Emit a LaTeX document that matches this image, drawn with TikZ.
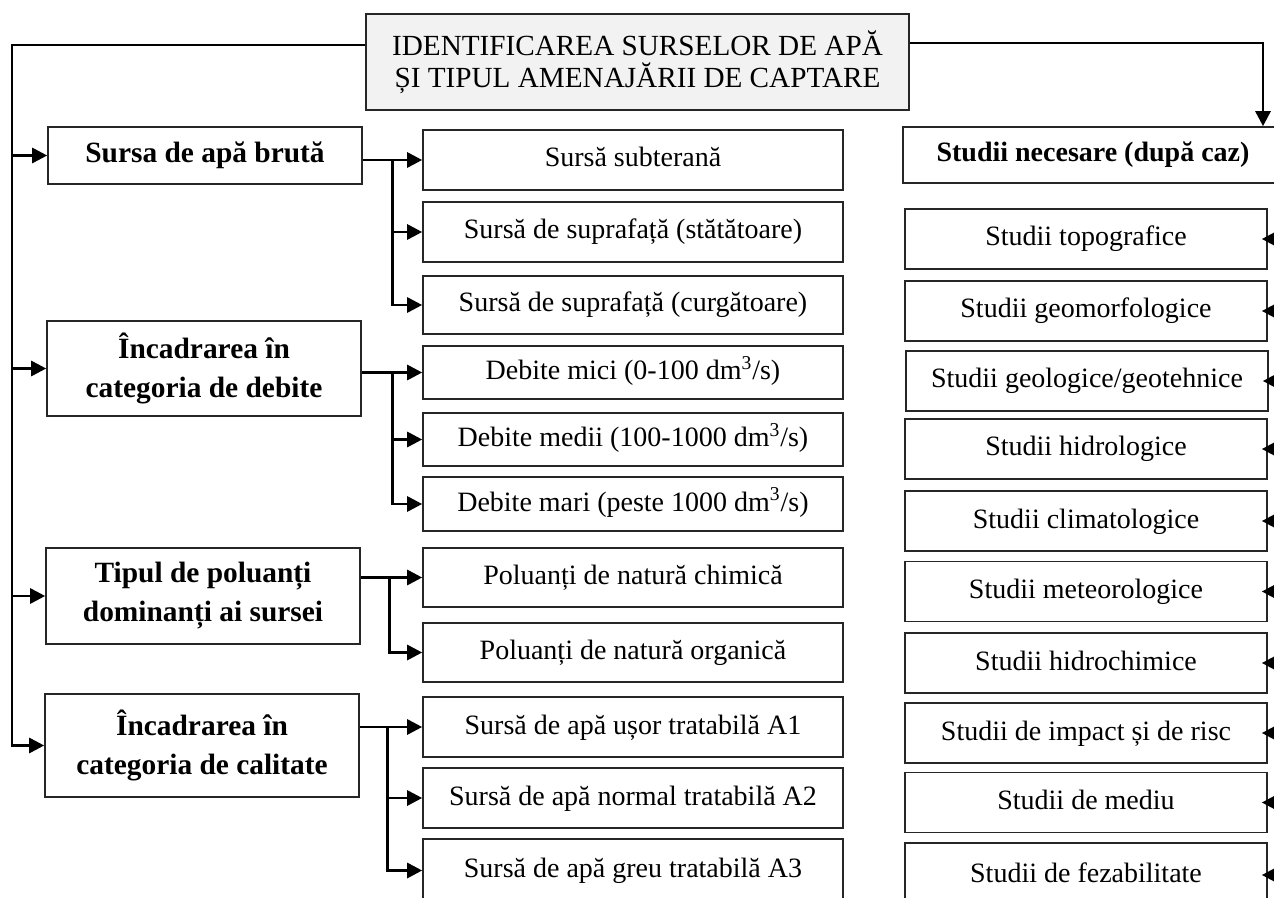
\documentclass[tikz,border=0pt]{standalone}
\usepackage{fontspec}
\setmainfont{Liberation Serif}
\usetikzlibrary{
  positioning,
  arrows.meta
}

\begin{document}
\begin{tikzpicture}[x=0.5pt,y=-0.5pt,>={Triangle[length=7.5pt,width=7.5pt]},
    box/.style={draw=black!85, line width=0.8pt, inner sep=0pt, align=center,
      font=\fontsize{14}{19}\selectfont},
    oneline/.style={text height=10.5pt, text depth=3.5pt},
    topbox/.style={box, fill=black!5, minimum width=271.5pt, minimum height=48pt,
      font=\fontsize{14.6}{16}\selectfont},
    catbox/.style={box, minimum width=157pt, font=\fontsize{14.7}{19.5}\selectfont\bfseries},
    itembox/.style={box, oneline, minimum width=210pt},
    studybox/.style={box, oneline, minimum width=181pt, minimum height=30pt},
    link/.style={line width=1.4pt, ->}]
    \useasboundingbox (0,0) rectangle (1274,898);
    \clip (0,0) rectangle (1274,898);

    % title
    \node[topbox] (top) at (637.5,62) {IDENTIFICAREA SURSELOR DE APĂ\\ȘI TIPUL AMENAJĂRII DE CAPTARE};

    % criteria
    \node[catbox, oneline, minimum height=28.5pt] (s1) at (205,155.5) {Sursa de apă brută};
    \node[catbox, minimum height=47.5pt] (s2) at (204,368.5) {Încadrarea în\\categoria de debite};
    \node[catbox, minimum height=48pt] (s3) at (203,596) {Tipul de poluanți\\dominanți ai sursei};
    \node[catbox, minimum height=51.5pt] (s4) at (202,745.5) {Încadrarea în\\categoria de calitate};

    % options for each criterion
    \node[itembox, minimum height=30pt] (m1) at (633,160) {Sursă subterană};
    \node[itembox, minimum height=30pt] (m2) at (633,232) {Sursă de suprafață (stătătoare)};
    \node[itembox, minimum height=29pt] (m3) at (633,305) {Sursă de suprafață (curgătoare)};
    \node[itembox, minimum height=26.5pt] (m4) at (633,372.5) {Debite mici (0-100 dm\textsuperscript{3}/s)};
    \node[itembox, minimum height=26.5pt] (m5) at (633,439.5) {Debite medii (100-1000 dm\textsuperscript{3}/s)};
    \node[itembox, minimum height=27pt] (m6) at (633,504) {Debite mari (peste 1000 dm\textsuperscript{3}/s)};
    \node[itembox, minimum height=29.5pt] (m7) at (633,577.5) {Poluanți de natură chimică};
    \node[itembox, minimum height=29.5pt] (m8) at (633,652.5) {Poluanți de natură organică};
    \node[itembox, minimum height=30pt] (m9) at (633,727) {Sursă de apă ușor tratabilă A1};
    \node[itembox, minimum height=30pt] (m10) at (633,798) {Sursă de apă normal tratabilă A2};
    \node[itembox, minimum height=31.5pt] (m11) at (633,870.5) {Sursă de apă greu tratabilă A3};

    % studies
    \node[box, oneline, minimum width=190pt, minimum height=28pt, font=\fontsize{14}{19}\selectfont\bfseries] (r0) at (1093,155) {Studii necesare (după caz)};
    \node[studybox] (r1) at (1086,239) {Studii topografice};
    \node[studybox] (r2) at (1086,311) {Studii geomorfologice};
    \node[studybox] (r3) at (1087,381) {Studii geologice/geotehnice};
    \node[studybox] (r4) at (1086,449) {Studii hidrologice};
    \node[studybox] (r5) at (1086,521) {Studii climatologice};
    \node[studybox] (r6) at (1086,591.5) {Studii meteorologice};
    \node[studybox] (r7) at (1086,663) {Studii hidrochimice};
    \node[studybox] (r8) at (1086,733) {Studii de impact și de risc};
    \node[studybox] (r9) at (1086,802.5) {Studii de mediu};
    \node[studybox, minimum height=32pt] (r10) at (1086,875) {Studii de fezabilitate};

    % rails
    \coordinate (lrail) at (12,45);
    \coordinate (rrail) at (1263,43);
    \coordinate (srail) at (1300,0);

    \draw[link] (top.west |- lrail) -- (lrail) |- (s4.west);
    \draw[link] (lrail |- s1.west) -- (s1.west);
    \draw[link] (lrail |- s2.west) -- (s2.west);
    \draw[link] (lrail |- s3.west) -- (s3.west);
    \draw[link] (top.east |- rrail) -| (r0.north -| rrail);

    % branches
    \coordinate (j1) at ([xshift=15pt]s1.east);
    \draw[link] (s1.east |- m1.west) -- (m1.west);
    \draw[link] (j1 |- m1.west) |- (m2.west);
    \draw[link] (j1 |- m1.west) |- (m3.west);

    \coordinate (j2) at ([xshift=15.5pt]s2.east);
    \draw[link] (s2.east |- m4.west) -- (m4.west);
    \draw[link] (j2 |- m4.west) |- (m5.west);
    \draw[link] (j2 |- m4.west) |- (m6.west);

    \coordinate (j3) at ([xshift=14.5pt]s3.east);
    \draw[link] (s3.east |- m7.west) -- (m7.west);
    \draw[link] (j3 |- m7.west) |- (m8.west);

    \coordinate (j4) at ([xshift=14pt]s4.east);
    \draw[link] (s4.east |- m9.west) -- (m9.west);
    \draw[link] (j4 |- m9.west) |- (m10.west);
    \draw[link] (j4 |- m9.west) |- (m11.west);

    % studies fed from the right
    \draw[link, shorten >=-3pt] (srail |- r1.east) -- (r1.east);
    \draw[link, shorten >=-3pt] (srail |- r2.east) -- (r2.east);
    \draw[link, shorten >=-3pt] (srail |- r3.east) -- (r3.east);
    \draw[link, shorten >=-3pt] (srail |- r4.east) -- (r4.east);
    \draw[link, shorten >=-3pt] (srail |- r5.east) -- (r5.east);
    \draw[link, shorten >=-3pt] (srail |- r6.east) -- (r6.east);
    \draw[link, shorten >=-3pt] (srail |- r7.east) -- (r7.east);
    \draw[link, shorten >=-3pt] (srail |- r8.east) -- (r8.east);
    \draw[link, shorten >=-3pt] (srail |- r9.east) -- (r9.east);
    \draw[link, shorten >=-3pt] (srail |- r10.east) -- (r10.east);
\end{tikzpicture}
\end{document}
